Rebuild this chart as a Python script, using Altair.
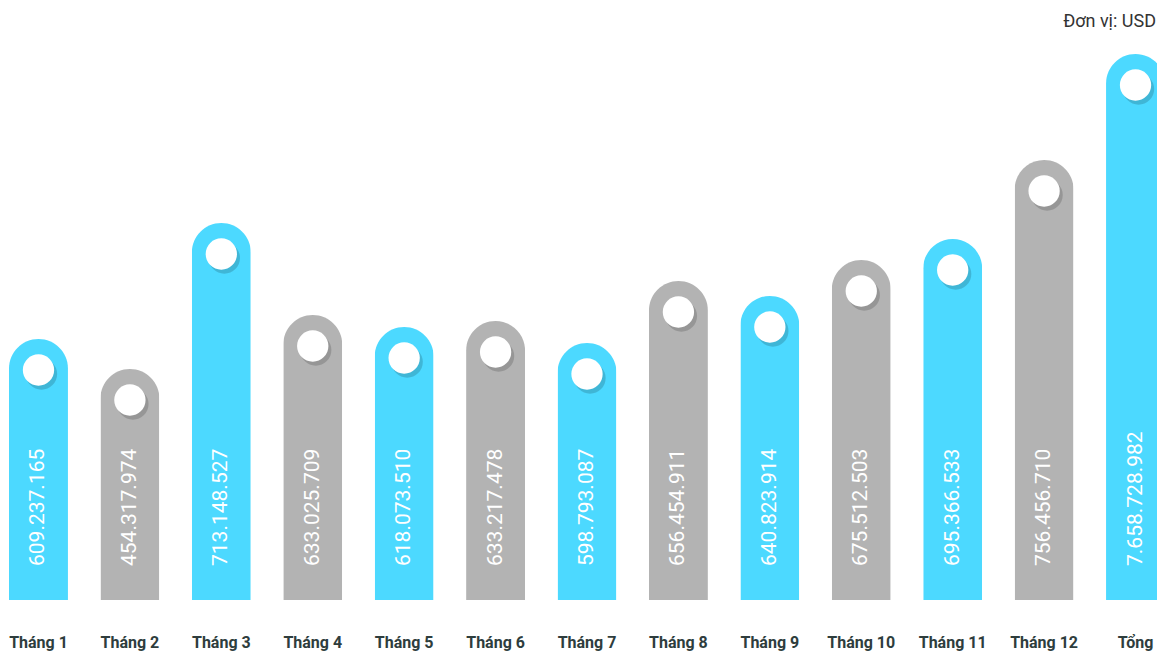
import altair as alt
import pandas as pd

categories = ["Tháng 1", "Tháng 2", "Tháng 3", "Tháng 4", "Tháng 5", "Tháng 6",
              "Tháng 7", "Tháng 8", "Tháng 9", "Tháng 10", "Tháng 11", "Tháng 12", "Tổng"]
value_labels = ["609.237.165", "454.317.974", "713.148.527", "633.025.709", "618.073.510",
                "633.217.478", "598.793.087", "656.454.911", "640.823.914", "675.512.503",
                "695.366.533", "756.456.710", "7.658.728.982"]
# visual bar level (as drawn in the infographic, not proportional to the values)
bar_level = [261, 231, 377, 285, 273, 279, 257, 319, 304, 340, 361, 440, 546]
group = ["a", "b", "a", "b", "a", "b", "a", "b", "a", "b", "a", "b", "a"]
unit_label = "Đơn vị: USD"

df = pd.DataFrame({"cat": categories, "label": value_labels,
                   "level": bar_level, "grp": group})

W, H = 1149, 646
BOTTOM = 592

x = alt.X("cat:N", sort=categories, axis=None,
          scale=alt.Scale(paddingInner=0.355, paddingOuter=0, range=[1, 1157]))
y_scale = alt.Scale(domain=[0, BOTTOM], range=[BOTTOM, 0], zero=True)
color = alt.Color("grp:N", legend=None,
                  scale=alt.Scale(domain=["a", "b"], range=["#4CD9FF", "#B3B3B3"]))

base = alt.Chart(df)

bars = base.mark_bar(cornerRadiusTopLeft=29.5, cornerRadiusTopRight=29.5).encode(
    x=x, y=alt.Y("level:Q", scale=y_scale, axis=None), color=color)

shadow = base.mark_circle(size=980, color="#000000", opacity=0.16, xOffset=3, yOffset=35).encode(
    x=x, y=alt.Y("level:Q", scale=y_scale, axis=None))

dots = base.mark_circle(size=980, color="#FFFFFF", opacity=1, yOffset=31).encode(
    x=x, y=alt.Y("level:Q", scale=y_scale, axis=None))

vals = base.mark_text(angle=270, align="left", baseline="middle", color="#FFFFFF",
                      font="Roboto", fontSize=21, yOffset=-34, dx=0).encode(
    x=x, y=alt.value(BOTTOM), text="label:N")

cats = base.mark_text(align="center", baseline="alphabetic", color="#2E3D3D",
                      font="Roboto", fontWeight="bold", fontSize=16).encode(
    x=x, y=alt.value(640), text="cat:N")

unit = alt.Chart(pd.DataFrame({"t": [unit_label]})).mark_text(
    align="right", baseline="alphabetic", color="#333333", font="Roboto", fontSize=18).encode(
    x=alt.value(1148), y=alt.value(19), text="t:N")

chart = alt.layer(bars, shadow, dots, vals, cats, unit).properties(
    width=W, height=H, padding=0,
    autosize=alt.AutoSizeParams(type="none")
).configure_view(stroke=None)

chart.save("out.html", embed_options={"renderer": "svg", "actions": False})
